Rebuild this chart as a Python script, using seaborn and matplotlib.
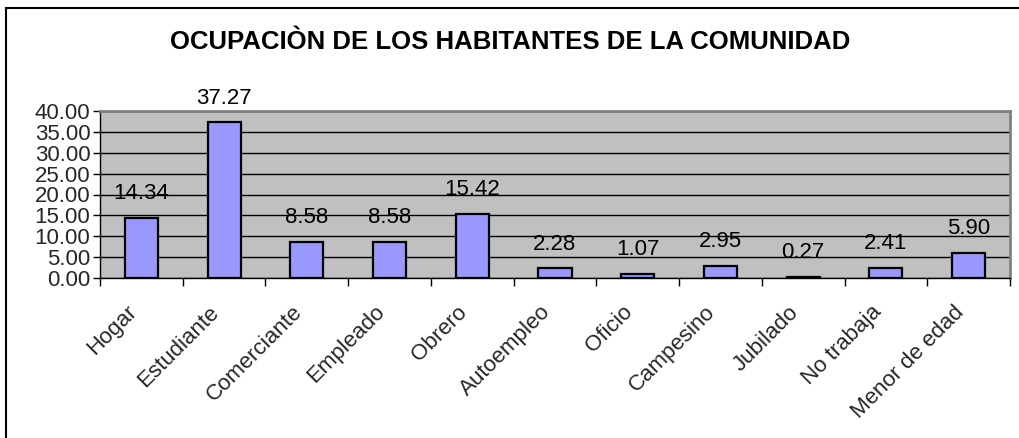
import matplotlib
matplotlib.use("Agg")
import matplotlib.pyplot as plt
import matplotlib.transforms as mtransforms
import seaborn as sns
import pandas as pd
from matplotlib.patches import Rectangle

categories = ["Hogar", "Estudiante", "Comerciante", "Empleado", "Obrero",
              "Autoempleo", "Oficio", "Campesino", "Jubilado", "No trabaja",
              "Menor de edad"]
values = [14.34, 37.27, 8.58, 8.58, 15.42, 2.28, 1.07, 2.95, 0.27, 2.41, 5.90]
yticks = [0, 5, 10, 15, 20, 25, 30, 35, 40]
title = "OCUPACIÒN DE LOS HABITANTES DE LA COMUNIDAD"

sns.set_theme(style="white")
plt.rcParams['font.family'] = ['Liberation Sans', 'DejaVu Sans']

df = pd.DataFrame({"cat": categories, "val": values})

fig = plt.figure(figsize=(10.2, 4.38), dpi=100)
W, H = 1020, 438
ax = fig.add_axes([100 / W, 1 - 278 / H, (1010 - 100) / W, (278 - 111) / H])

sns.barplot(data=df, x="cat", y="val", ax=ax, color="#9999FF", saturation=1,
            width=0.4, edgecolor="black", linewidth=1.6, zorder=3)

ax.set_facecolor("#C0C0C0")
ax.set_xlim(-0.5, len(categories) - 0.5)
ax.set_ylim(0, 40)
ax.set_yticks(yticks)
ax.set_yticklabels([f"{v:.2f}" for v in yticks], fontsize=16)
ax.yaxis.grid(True, color="black", linewidth=1.0, zorder=0)
ax.set_axisbelow(True)
ax.set_xlabel("")
ax.set_ylabel("")

# category ticks between bars (Excel style)
ax.set_xticks([i - 0.5 for i in range(len(categories) + 1)], minor=True)
ax.tick_params(axis="x", which="minor", length=6, width=1, color="black", bottom=True)
ax.set_xticks(range(len(categories)))
ax.set_xticklabels(categories, rotation=45, ha="right", va="center",
                   rotation_mode="anchor", fontsize=16)
ax.tick_params(axis="x", which="major", length=0, pad=21)
ax.tick_params(axis="y", which="major", length=5, width=1, color="black", left=True, pad=2)
shift = mtransforms.ScaledTranslation(-8 / 100, -2 / 100, fig.dpi_scale_trans)
for lab in ax.get_xticklabels():
    lab.set_transform(lab.get_transform() + shift)

for side in ["top", "right"]:
    ax.spines[side].set_color("#808080")
    ax.spines[side].set_linewidth(2)
ax.spines["left"].set_color("black")
ax.spines["left"].set_linewidth(1)
ax.spines["bottom"].set_color("black")
ax.spines["bottom"].set_linewidth(1)

for i, v in enumerate(values):
    ax.annotate(f"{v:.2f}", (i, v), xytext=(0, 10), textcoords="offset points",
                ha="center", va="bottom", fontsize=16, color="black")

fig.text(510 / W, 1 - 42 / H, title, ha="center", va="center",
         fontsize=18.5, fontweight="bold", color="black")

fig.patches.append(Rectangle((6 / W, -0.1), 1.2, 1 - 8 / H + 0.1,
                             transform=fig.transFigure, fill=False,
                             edgecolor="black", linewidth=1.5, zorder=0))

fig.savefig("out.png", dpi=100, facecolor="white")
